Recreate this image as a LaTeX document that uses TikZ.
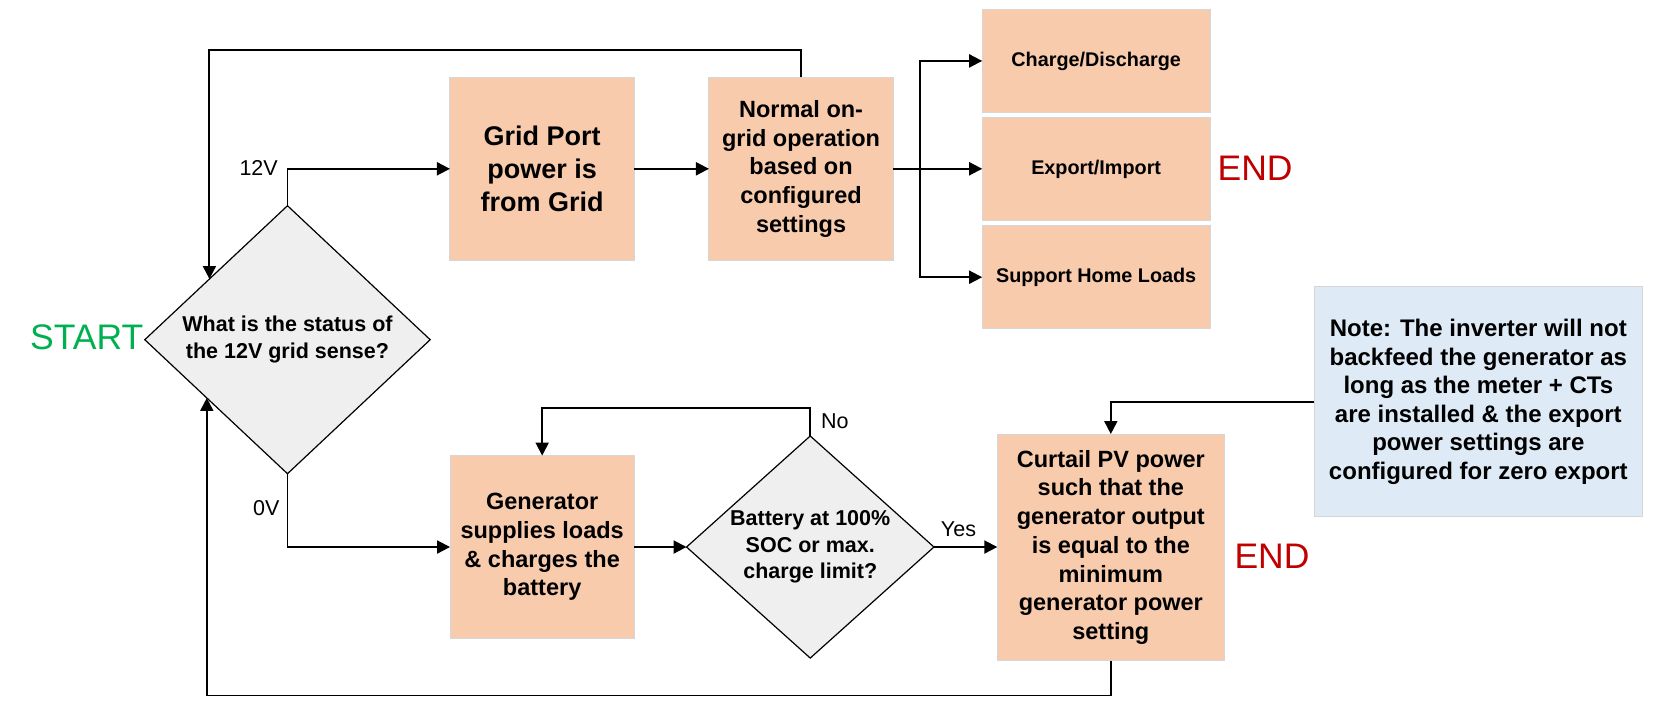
\documentclass[tikz,border=0pt]{standalone}
\usepackage{fontspec}
\setmainfont{Liberation Sans}
\usetikzlibrary{shapes.geometric,arrows.meta,calc}
\definecolor{boxfill}{HTML}{F8CBAD}
\definecolor{boxline}{HTML}{D6D6D6}
\definecolor{dfill}{HTML}{EFEFEF}
\definecolor{notefill}{HTML}{DEEBF7}
\definecolor{startgreen}{HTML}{00B050}
\definecolor{endred}{HTML}{C00000}
\begin{document}
\begin{tikzpicture}[x=1.055pt,y=-1.055pt,
  box/.style={rectangle, draw=boxline, line width=1pt, fill=boxfill, inner sep=0pt, outer sep=0pt, align=center,
    minimum width=184.2pt, minimum height=182.8pt, font=\bfseries\fontsize{23.5}{28.7}\selectfont},
  smallbox/.style={box, minimum width=227.9pt, minimum height=102.9pt, font=\bfseries\fontsize{19.8}{24}\selectfont},
  decision/.style={diamond, draw=black, line width=1.2pt, fill=dfill, inner sep=0pt, outer sep=0pt, align=center,
    font=\bfseries\fontsize{21.5}{26.7}\selectfont},
  conn/.style={line width=1.9pt, -{Triangle[length=13pt,width=13pt]}},
  lbl/.style={font=\fontsize{21.5}{24}\selectfont, inner sep=0pt},
  term/.style={font=\fontsize{35.5}{40}\selectfont, inner sep=0pt}]
\useasboundingbox (0,0) rectangle (1569.67,670.14);

% decision 1
\node[decision, minimum width=285.4pt, minimum height=268pt, aspect=1.065] (d1) at (272.5,322)
  {What is the status of\\the 12V grid sense?};
\node[term, text=startgreen, anchor=east] (start) at (136,320) {START};

% upper branch
\node[box, font=\bfseries\fontsize{27}{33}\selectfont] (grid) at (513.8,160) {Grid Port\\power is\\from Grid};
\node[box] (norm) at (759.3,160) {Normal on-\\grid operation\\based on\\configured\\settings};
\node[smallbox] (chg) at (1039,57.75) {Charge/Discharge};
\node[smallbox] (exp) at (1039,160.25) {Export/Import};
\node[smallbox] (sup) at (1039,262.75) {Support Home Loads};
\node[term, text=endred, anchor=west] (end1) at (1154,159.5) {END};

% lower branch
\node[box] (gen) at (513.9,518.5) {Generator\\supplies loads\\\& charges the\\battery};
\node[decision, minimum width=247.4pt, minimum height=222.1pt, aspect=1.114] (d2) at (768,518.5)
  {Battery at 100\%\\SOC or max.\\charge limit?};
\node[box, minimum width=227pt, minimum height=226.6pt] (cur) at (1052.9,518.8)
  {Curtail PV power\\such that the\\generator output\\is equal to the\\minimum\\generator power\\setting};
\node[term, text=endred, anchor=west] (end2) at (1170,527.7) {END};
\node[box, fill=notefill, minimum width=328pt, minimum height=230.5pt, font=\bfseries\fontsize{24}{28.5}\selectfont] (note) at (1401.25,380.75)
  {Note: The inverter will not\\backfeed the generator as\\long as the meter + CTs\\are installed \& the export\\power settings are\\configured for zero export};

% labels
\node[lbl, anchor=east] (l12) at (263.5,159.5) {12V};
\node[lbl, anchor=east] (l0) at (265,482) {0V};
\node[lbl, anchor=west] (lno) at (778,399) {No};
\node[lbl] (lyes) at (908.5,501.6) {Yes};

% helper points
\coordinate (d1top) at ($(d1.west)!0.453!(d1.north)$);
\coordinate (d1bot) at ($(d1.west)!0.4346!(d1.south)$);
\coordinate (br) at (872,160);

% connectors
\draw[conn] (d1.north) |- (grid.west);
\draw[conn] (grid.east) -- (norm.west);
\draw[conn] (norm.east) -- (norm.east -| exp.west);
\draw[conn] (br) |- (chg.west);
\draw[conn] (br) |- (sup.west);
\draw[conn] (norm.north) -- ++(0,-26) -| (d1top);
\draw[conn] (d1.south) |- (gen.west);
\draw[conn] (gen.east) -- (d2.west);
\draw[conn] (d2.north) -- ++(0,-26.5) -| (gen.north);
\draw[conn] (d2.east) -- (d2.east -| cur.west);
\draw[conn] (note.west) -| (cur.north);
\draw[conn] (cur.south) -- ++(0,33) -| (d1bot);
\end{tikzpicture}
\end{document}
